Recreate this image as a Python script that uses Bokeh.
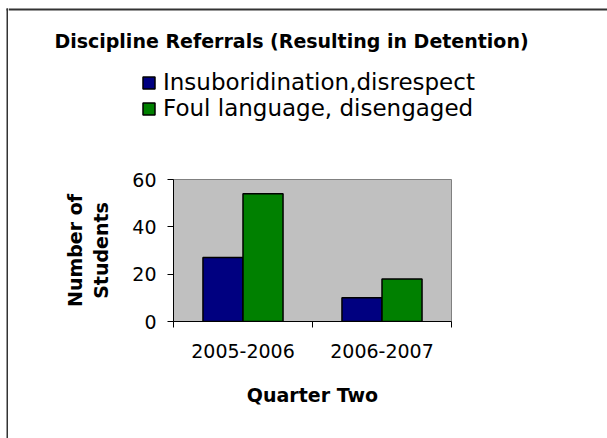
import numpy as np
from bokeh.plotting import figure
from bokeh.layouts import row, column
from bokeh.models import FixedTicker, Legend, LegendItem, Range1d, Label
from bokeh.embed import file_html
from bokeh.resources import INLINE

title_text = "Discipline Referrals (Resulting in Detention)"
categories = ["2005-2006", "2006-2007"]
series_names = ["Insuboridination,disrespect", "Foul language, disengaged"]
series_colors = ["#000080", "#008000"]
insubordination = [27, 10]
foul_language = [54, 18]
y_ticks = [0, 20, 40, 60]
x_title = "Quarter Two"
y_title = "Number of\nStudents"

FONT = "DejaVu Sans"
BORDER = "#333333"

centers = np.arange(len(categories)) + 0.5
bw = 0.288

# ---- thin left strip carrying the chart-area border line ----
strip = figure(width=8, height=438, output_backend="svg", toolbar_location=None,
               x_range=Range1d(0, 8), y_range=Range1d(438, 0), min_border=0,
               x_axis_location=None, y_axis_location=None)
strip.frame_align = False
strip.outline_line_color = None
strip.grid.visible = False
strip.segment(x0=[7, 6], y0=[8, 9], x1=[7, 8], y1=[438, 9],
              line_color=BORDER, line_width=2)

# ---- header: title + legend ----
head = figure(width=599, height=169, output_backend="svg", toolbar_location=None,
              x_range=Range1d(0, 599), y_range=Range1d(169, 0), min_border=0,
              x_axis_location=None, y_axis_location=None)
head.frame_align = False
head.outline_line_color = None
head.grid.visible = False
head.segment(x0=[0], y0=[9], x1=[599], y1=[9], line_color=BORDER, line_width=2)
head.add_layout(Label(x=283, y=40, text=title_text, text_align="center",
                      text_baseline="alphabetic", text_font=FONT,
                      text_font_style="bold", text_font_size="19px",
                      text_color="black"))
key_renderers = [head.vbar(x=centers, top=vals, width=bw, fill_color=c,
                           line_color="black", line_width=1.5, visible=False)
                 for c, vals in zip(series_colors, [insubordination, foul_language])]
legend = Legend(items=[LegendItem(label=n, renderers=[r])
                       for n, r in zip(series_names, key_renderers)],
                location=(133, 48), orientation="vertical",
                label_text_font=FONT, label_text_font_size="23px",
                label_text_color="black",
                glyph_width=15, glyph_height=15, label_standoff=7,
                spacing=0, padding=0, margin=0, label_height=26,
                inactive_fill_alpha=0,
                border_line_alpha=0, background_fill_alpha=0)
head.add_layout(legend, "center")

# ---- main chart ----
p = figure(width=599, height=269, output_backend="svg", toolbar_location=None,
           x_range=Range1d(0, len(categories)), y_range=Range1d(0, 60),
           min_border_left=165, min_border_right=156,
           min_border_top=10, min_border_bottom=117)
p.frame_align = False
p.background_fill_color = "#C0C0C0"
p.border_fill_color = "white"
p.outline_line_color = "#808080"
p.outline_line_width = 1
p.xgrid.visible = False
p.ygrid.visible = False

p.vbar(x=centers - bw / 2, top=insubordination, width=bw,
       fill_color=series_colors[0], line_color="black", line_width=1.5)
p.vbar(x=centers + bw / 2, top=foul_language, width=bw,
       fill_color=series_colors[1], line_color="black", line_width=1.5)

xa = p.xaxis[0]
xa.ticker = FixedTicker(ticks=list(centers),
                        minor_ticks=list(range(len(categories) + 1)))
xa.major_label_overrides = {float(c): cat for c, cat in zip(centers, categories)}
xa.major_tick_out = 0
xa.major_tick_in = 0
xa.minor_tick_out = 6
xa.minor_tick_in = 0
xa.minor_tick_line_color = "black"
xa.axis_line_color = "black"
xa.major_label_standoff = 16
xa.major_label_text_font = FONT
xa.major_label_text_font_size = "19px"
xa.major_label_text_color = "black"
xa.axis_label = x_title
xa.axis_label_text_font = FONT
xa.axis_label_text_font_style = "bold"
xa.axis_label_text_font_size = "19px"
xa.axis_label_text_color = "black"
xa.axis_label_standoff = 23

ya = p.yaxis[0]
ya.ticker = FixedTicker(ticks=y_ticks, minor_ticks=[])
ya.major_tick_out = 6
ya.major_tick_in = 0
ya.major_tick_line_color = "black"
ya.axis_line_color = "black"
ya.major_label_standoff = 11
ya.major_label_text_font = FONT
ya.major_label_text_font_size = "19px"
ya.major_label_text_color = "black"
ya.axis_label = y_title
ya.axis_label_text_font = FONT
ya.axis_label_text_font_style = "bold"
ya.axis_label_text_font_size = "19px"
ya.axis_label_text_color = "black"
ya.axis_label_standoff = 17

layout = row(strip, column(head, p, spacing=0), spacing=0)

open("out.html", "w").write(file_html(layout, INLINE))
